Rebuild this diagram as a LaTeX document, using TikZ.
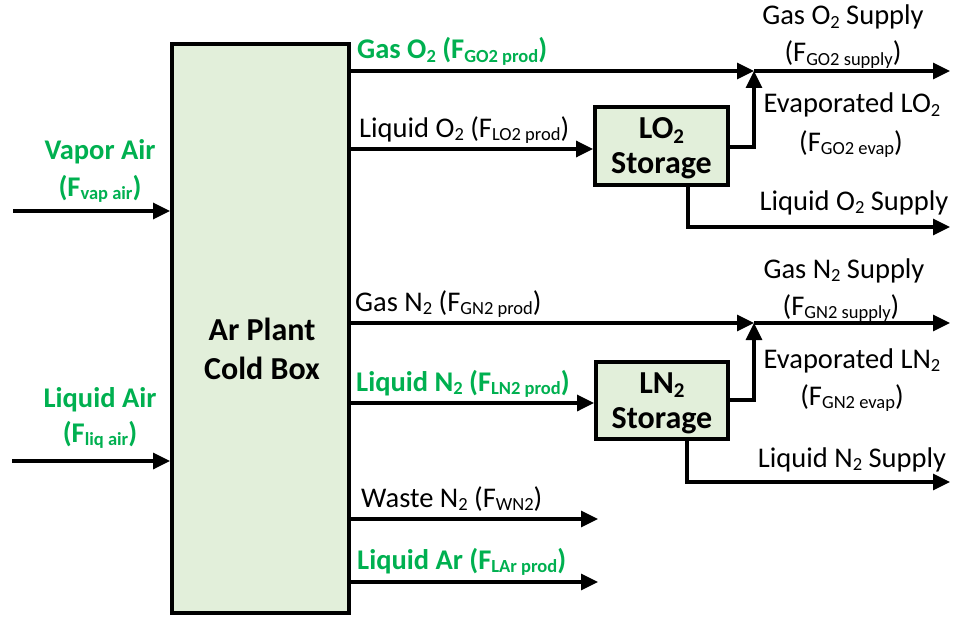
\documentclass[tikz,border=0pt]{standalone}
\usepackage{fontspec}
\setmainfont{Carlito}
\usetikzlibrary{arrows.meta}
\definecolor{boxgreen}{HTML}{E2EFDA}
\definecolor{txtgreen}{HTML}{00B050}
\newcommand\sbs[1]{\raisebox{-3.7pt}{\fontsize{18.5}{19}\selectfont #1}}
\newcommand\sbb[1]{\raisebox{-4.2pt}{\fontsize{21}{21}\selectfont #1}}
\begin{document}
\begin{tikzpicture}[x=1pt,y=-1pt,
 every node/.style={font=\fontsize{28.5}{33}\selectfont, inner sep=0pt},
 blk/.style={draw=black, line width=3.8pt, fill=boxgreen, align=center, font=\fontsize{32}{35}\selectfont\bfseries},
 flow/.style={line width=3.1pt, -{Triangle[length=17pt,width=16pt]}},
 lbl/.style={anchor=base west},
 clbl/.style={anchor=base},
 gr/.style={text=txtgreen, font=\fontsize{28.5}{33}\selectfont\bfseries}]
\useasboundingbox (0,0) rectangle (954,618);

% boxes
\node[blk, minimum width=177pt, minimum height=569pt] (cb) at (260.5,328.5) {};
\node[font=\fontsize{32}{39}\selectfont\bfseries, align=center] (cbt) at (262,349) {Ar Plant\\Cold Box};
\node[blk, minimum width=133pt, minimum height=78pt, text depth=0pt] (lo2) at (661.5,146) {LO\sbb{2}\\Storage};
\node[blk, minimum width=132pt, minimum height=77pt, text depth=0pt] (ln2) at (662,400.5) {LN\sbb{2}\\Storage};

% coordinates
\coordinate (vaS) at (13,211);
\coordinate (laS) at (12,461);
\coordinate (go) at (349,71);
\coordinate (jo) at (754,71);
\coordinate (goE) at (950,71);
\coordinate (lo) at (349,149);
\coordinate (eo) at (754,147);
\coordinate (ls) at (688,227);
\coordinate (lsE) at (950,227);
\coordinate (gn) at (349,323);
\coordinate (jn) at (754,323);
\coordinate (gnE) at (950,323);
\coordinate (lnS) at (349,403);
\coordinate (en) at (754,400);
\coordinate (ns) at (687,482);
\coordinate (nsE) at (950,482);
\coordinate (wS) at (349,519);
\coordinate (wE) at (598,519);
\coordinate (aS) at (349,582);
\coordinate (aE) at (598,582);

% connectors
\draw[flow] (vaS) -- (vaS -| cb.west);
\draw[flow] (laS) -- (laS -| cb.west);
\draw[flow] (go) -- (jo);
\draw[flow] (jo) -- (goE);
\draw[flow] (lo) -- (lo -| lo2.west);
\draw[flow] (lo2.east |- eo) -- (eo) -- (jo);
\draw[flow] (ls |- lo2.south) -- (ls) -- (lsE);
\draw[flow] (gn) -- (jn);
\draw[flow] (jn) -- (gnE);
\draw[flow] (lnS) -- (lnS -| ln2.west);
\draw[flow] (ln2.east |- en) -- (en) -- (jn);
\draw[flow] (ns |- ln2.south) -- (ns) -- (nsE);
\draw[flow] (wS) -- (wE);
\draw[flow] (aS) -- (aE);

% labels
\node[lbl, gr] (tgo) at (357,59) {Gas O\sbs{2} (F\sbs{GO2 prod})};
\node[lbl] (tlo) at (359,137) {Liquid O\sbs{2} (F\sbs{LO2 prod})};
\node[clbl] (tgos) at (843,25) {Gas O\sbs{2} Supply};
\node[clbl] (tgos2) at (843,62) {(F\sbs{GO2 supply})};
\node[clbl] (teo) at (852,113) {Evaporated LO\sbs{2}};
\node[clbl] (teo2) at (851,151) {(F\sbs{GO2 evap})};
\node[clbl] (tlos) at (854,210) {Liquid O\sbs{2} Supply};
\node[clbl, gr] (tva) at (100,159) {Vapor Air};
\node[clbl, gr] (tva2) at (100,196) {(F\sbs{vap air})};
\node[clbl, gr] (tla) at (100,407) {Liquid Air};
\node[clbl, gr] (tla2) at (100,442) {(F\sbs{liq air})};
\node[lbl] (tgn) at (355,311) {Gas N\sbs{2} (F\sbs{GN2 prod})};
\node[lbl, gr] (tln) at (356,391) {Liquid N\sbs{2} (F\sbs{LN2 prod})};
\node[clbl] (tgns) at (844,278) {Gas N\sbs{2} Supply};
\node[clbl] (tgns2) at (841,315) {(F\sbs{GN2 supply})};
\node[clbl] (ten) at (852,368) {Evaporated LN\sbs{2}};
\node[clbl] (ten2) at (852,405) {(F\sbs{GN2 evap})};
\node[clbl] (tlns) at (852,467) {Liquid N\sbs{2} Supply};
\node[lbl] (tw) at (361,507) {Waste N\sbs{2} (F\sbs{WN2})};
\node[lbl, gr] (tar) at (357,569) {Liquid Ar (F\sbs{LAr prod})};
\end{tikzpicture}
\end{document}
